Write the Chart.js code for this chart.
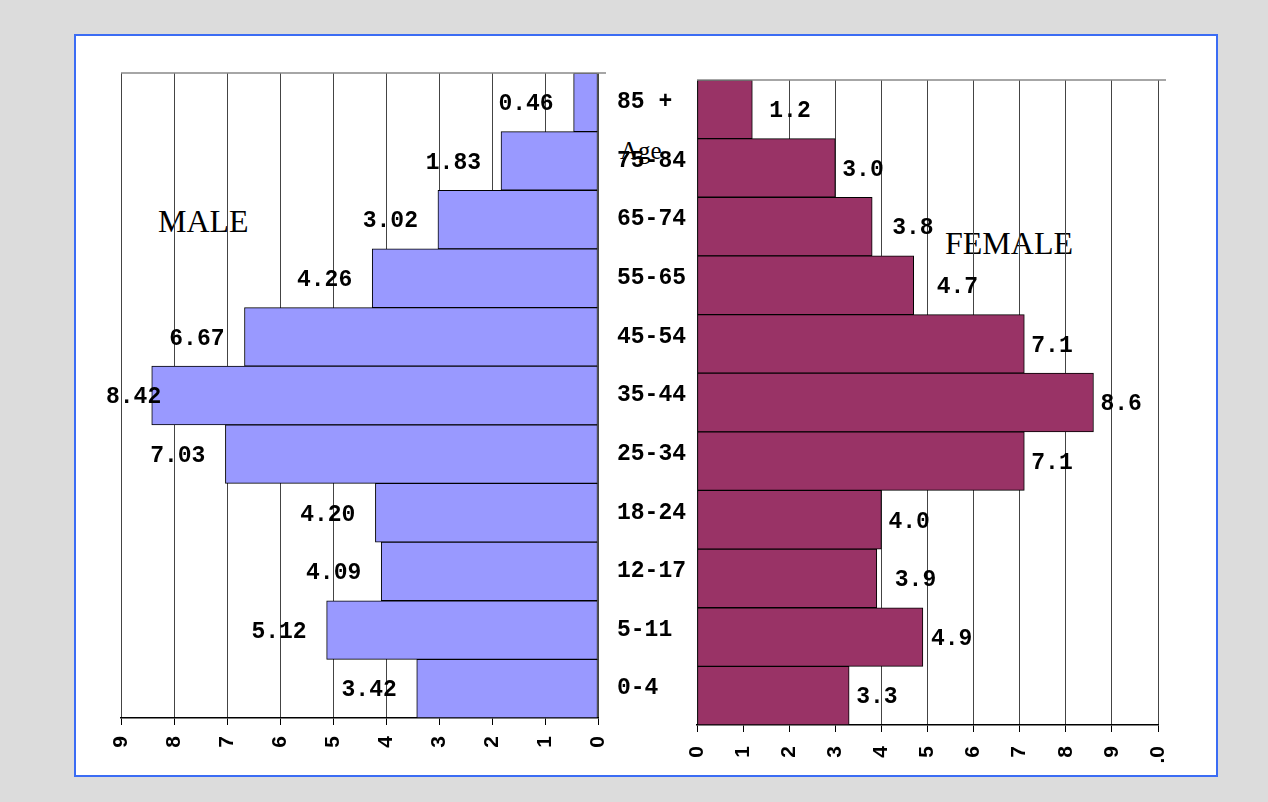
<!DOCTYPE html>
<html>
<head>
<meta charset="utf-8">
<script src="https://cdn.jsdelivr.net/npm/chart.js@4/dist/chart.umd.min.js"></script>
<style>
  body { margin: 0; background: #dcdcdc; width: 1268px; height: 802px; overflow: hidden; }
  #panel { position: absolute; left: 74px; top: 34px; width: 1140px; height: 739px; background: #fff; border: 2px solid #3b6cf4; }
  canvas { position: absolute; }
  .note { position: absolute; font-family: 'Liberation Serif', serif; line-height: 1; color: #000; white-space: nowrap; }
</style>
</head>
<body>
<div id="panel"></div>
<div class="note" style="left:158px; top:205px; font-size:32px;">MALE</div>
<div class="note" style="left:945px; top:227px; font-size:32px;">FEMALE</div>
<div class="note" style="left:620px; top:138px; font-size:25px;">Age</div>
<canvas id="male" width="612" height="730" style="left:80px; top:40px; width:612px; height:730px;"></canvas>
<canvas id="female" width="570" height="730" style="left:640px; top:40px; width:570px; height:730px;"></canvas>
<script>
'use strict'

// age groups, top to bottom
var categories = ['85 +', '75-84', '65-74', '55-65', '45-54', '35-44', '25-34', '18-24', '12-17', '5-11', '0-4'];
var maleValues = [0.46, 1.83, 3.02, 4.26, 6.67, 8.42, 7.03, 4.20, 4.09, 5.12, 3.42];
var femaleValues = [1.2, 3.0, 3.8, 4.7, 7.1, 8.6, 7.1, 4.0, 3.9, 4.9, 3.3];
var maleTickLabels = ['0', '1', '2', '3', '4', '5', '6', '7', '8', '9'];
var femaleTickLabels = ['0', '1', '2', '3', '4', '5', '6', '7', '8', '9', '.0'];

var monoBold = { family: "'Liberation Mono', 'Courier New', monospace", size: 23, weight: 'bold' };
var tickFont = { family: "'Liberation Sans', Arial, sans-serif", size: 21, weight: 'bold' };

// gray line along the top of the plot
var topLine = {
  id: 'topLine',
  afterDraw: function(chart) {
    var a = chart.chartArea;
    var ctx = chart.ctx;
    ctx.save();
    ctx.strokeStyle = '#888';
    ctx.lineWidth = 1.5;
    ctx.beginPath();
    ctx.moveTo(a.left, a.top);
    ctx.lineTo(a.right + 8, a.top);
    ctx.stroke();
    ctx.restore();
  }
};

// value labels beside each bar
var valueLabels = {
  id: 'valueLabels',
  afterDatasetsDraw: function(chart, args, opts) {
    var ctx = chart.ctx;
    var bars = chart.getDatasetMeta(0).data;
    ctx.save();
    ctx.font = 'bold 23px "Liberation Mono", monospace';
    ctx.fillStyle = '#000';
    ctx.textBaseline = 'middle';
    ctx.textAlign = 'left';
    for (var i = 0; i < bars.length; i++) {
      var txt = opts.texts[i];
      var w = ctx.measureText(txt).width;
      var x;
      if (opts.side === 'left') {
        x = Math.max(bars[i].x - 20 - w, opts.minX);
      } else {
        x = bars[i].x + 7 + (opts.nudge ? opts.nudge[i] : 0);
      }
      ctx.fillText(txt, x, bars[i].y + 2);
    }
    ctx.restore();
  }
};

var maleChart = new Chart(document.getElementById('male').getContext('2d'), {
  type: 'bar',
  data: {
    labels: categories,
    datasets: [{
      data: maleValues,
      backgroundColor: '#9999ff',
      borderColor: '#000',
      borderWidth: 1,
      borderSkipped: false,
      barPercentage: 1,
      categoryPercentage: 1
    }]
  },
  options: {
    indexAxis: 'y',
    responsive: false,
    animation: false,
    layout: { padding: { left: 41, top: 33, right: 0, bottom: 0 } },
    plugins: {
      legend: { display: false },
      tooltip: { enabled: false },
      valueLabels: { side: 'left', minX: 26, texts: maleValues.map(function(v) { return v.toFixed(2); }) }
    },
    scales: {
      x: {
        type: 'linear',
        reverse: true,
        min: 0,
        max: 9,
        ticks: {
          stepSize: 1,
          minRotation: 90,
          maxRotation: 90,
          padding: 11,
          color: '#000',
          font: tickFont,
          callback: function(v) { return maleTickLabels[v]; }
        },
        grid: { color: '#444', tickColor: '#000', tickLength: 7, lineWidth: 1 },
        border: { color: '#000', width: 1.5 },
        afterFit: function(s) { s.height = 52; }
      },
      y: {
        position: 'right',
        grid: { display: false, drawTicks: false },
        border: { display: false },
        ticks: { color: '#000', font: monoBold, padding: 19 },
        afterFit: function(s) { s.width = 94; }
      }
    }
  },
  plugins: [topLine, valueLabels]
});

var femaleChart = new Chart(document.getElementById('female').getContext('2d'), {
  type: 'bar',
  data: {
    labels: categories,
    datasets: [{
      data: femaleValues,
      backgroundColor: '#993366',
      borderColor: '#000',
      borderWidth: 1,
      borderSkipped: false,
      barPercentage: 1,
      categoryPercentage: 1
    }]
  },
  options: {
    indexAxis: 'y',
    responsive: false,
    animation: false,
    layout: { padding: { left: 57, top: 40, right: 52, bottom: 0 } },
    plugins: {
      legend: { display: false },
      tooltip: { enabled: false },
      valueLabels: {
        side: 'right',
        texts: femaleValues.map(function(v) { return v.toFixed(1); }),
        nudge: [10, 0, 13, 16, 0, 0, 0, 0, 11, 1, 0]
      }
    },
    scales: {
      x: {
        type: 'linear',
        min: 0,
        max: 10,
        ticks: {
          stepSize: 1,
          minRotation: 90,
          maxRotation: 90,
          padding: 14,
          color: '#000',
          font: tickFont,
          callback: function(v) { return femaleTickLabels[v]; }
        },
        grid: { color: '#444', tickColor: '#000', tickLength: 7, lineWidth: 1 },
        border: { color: '#000', width: 1.5 },
        afterFit: function(s) { s.height = 45; }
      },
      y: { display: false }
    }
  },
  plugins: [topLine, valueLabels]
});
</script>
</body>
</html>
